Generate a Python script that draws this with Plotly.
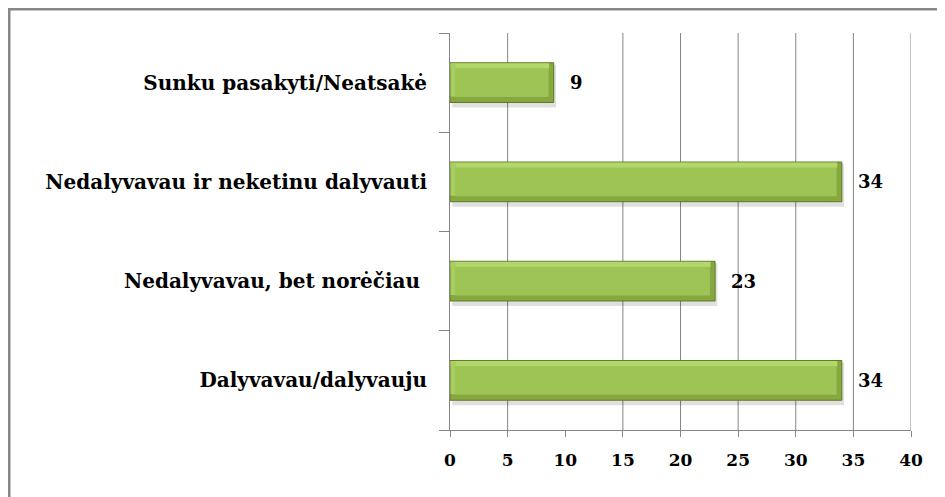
import plotly.graph_objects as go

categories = ["Dalyvavau/dalyvauju", "Nedalyvavau, bet norėčiau ", "Nedalyvavau ir neketinu dalyvauti", "Sunku pasakyti/Neatsakė"]
values = [34, 23, 34, 9]
x_ticks = [0, 5, 10, 15, 20, 25, 30, 35, 40]
grid_x = [5, 15, 20, 25, 30, 35, 40]   # the reference shows no gridline at 10

FONT = "DejaVu Serif"
BEVEL_X = 0.45   # x-units of the bevelled ends

fig = go.Figure()
# soft shadow under bars
fig.add_trace(go.Bar(
    y=categories, x=values, orientation="h", base=0.2,
    width=0.43, offset=-0.25,
    marker=dict(color="rgba(0,0,0,0.12)", line=dict(width=0)),
    hoverinfo="skip",
))
# outer bar (darker edges)
fig.add_trace(go.Bar(
    y=categories, x=values, orientation="h",
    width=0.4, offset=-0.2,
    marker=dict(color="#86A83F", line=dict(color="#5E7A26", width=1)),
    hoverinfo="x+y",
))
# light top bevel
fig.add_trace(go.Bar(
    y=categories, x=[v - BEVEL_X for v in values], orientation="h", base=0.05,
    width=0.055, offset=0.14,
    marker=dict(color="#B3D76B", line=dict(width=0)),
    hoverinfo="skip",
))
# light left bevel
fig.add_trace(go.Bar(
    y=categories, x=[BEVEL_X] * len(values), orientation="h", base=0.05,
    width=0.33, offset=-0.14,
    marker=dict(color="#A8CE60", line=dict(width=0)),
    hoverinfo="skip",
))
# inner face
fig.add_trace(go.Bar(
    y=categories, x=[v - 2 * BEVEL_X for v in values], orientation="h", base=BEVEL_X,
    width=0.29, offset=-0.145,
    marker=dict(color="#9DC455", line=dict(width=0)),
    hoverinfo="skip",
))

for c, v in zip(categories, values):
    fig.add_annotation(x=v, y=c, text=str(v), showarrow=False, xanchor="left",
                       xshift=14, font=dict(family=FONT, size=18, color="black", weight="bold"))

shapes = [dict(type="line", xref="x", yref="paper", x0=g, x1=g, y0=0, y1=1,
               line=dict(color="#868686", width=1), layer="below") for g in grid_x]
shapes.append(dict(type="rect", xref="paper", yref="paper", x0=-0.9566, x1=2, y0=-1, y1=1.0605,
                   line=dict(color="#878787", width=3), layer="below"))

fig.update_layout(
    width=937, height=489,
    margin=dict(l=442, r=34, t=25, b=67),
    barmode="overlay",
    paper_bgcolor="white", plot_bgcolor="white",
    showlegend=False,
    xaxis=dict(range=[0, 40], tickvals=x_ticks, showgrid=False,
               showline=True, linecolor="#868686", linewidth=1, ticks="outside", ticklen=6,
               tickcolor="#868686", zeroline=False, ticklabelstandoff=9,
               tickfont=dict(family=FONT, size=17, color="black", weight="bold")),
    yaxis=dict(showline=True, linecolor="#868686", linewidth=1, ticks="outside", ticklen=10,
               tickcolor="#868686", tickson="boundaries", showgrid=False,
               ticklabelstandoff=18,
               tickfont=dict(family=FONT, size=20, color="black", weight="bold")),
    shapes=shapes,
)

fig.write_html("out.html")
